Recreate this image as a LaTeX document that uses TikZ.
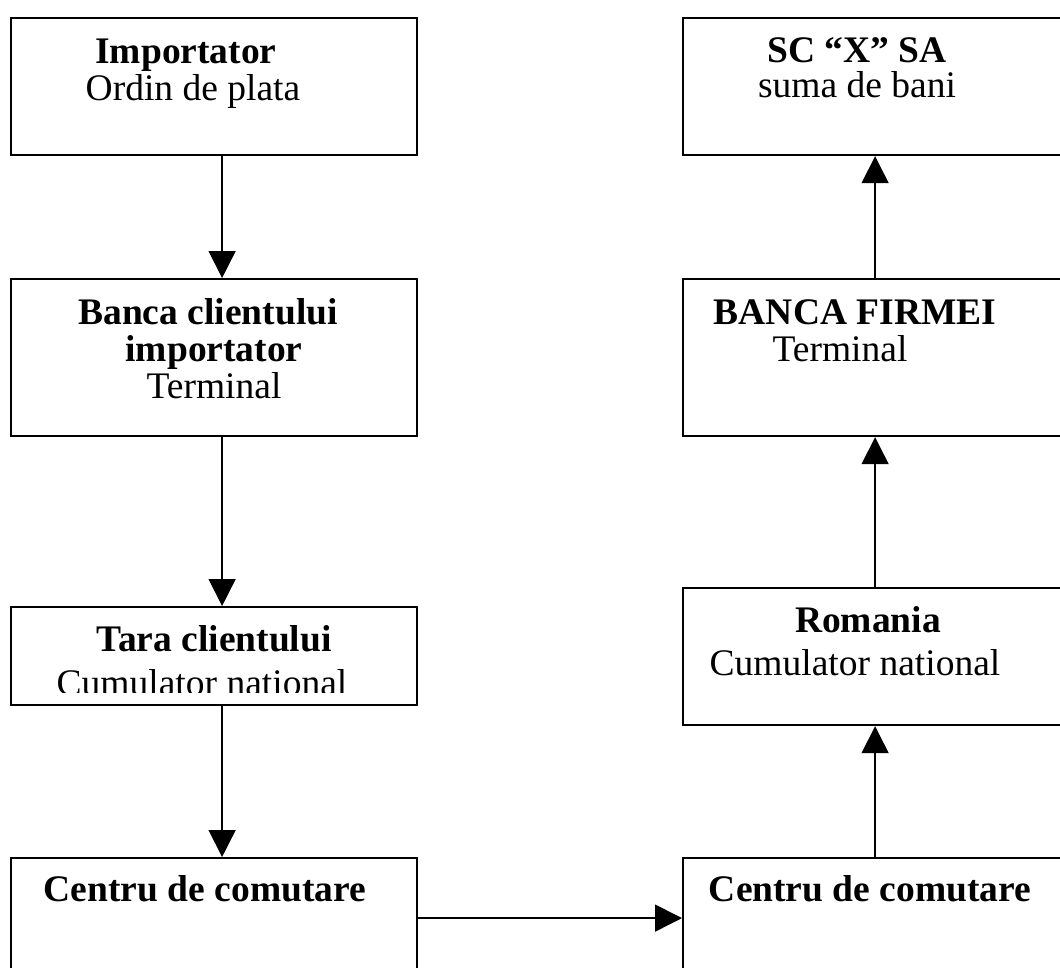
\documentclass[tikz,border=0pt]{standalone}
\usepackage{fontspec}
\setmainfont{Liberation Serif}
\usetikzlibrary{arrows.meta}
\tikzset{
  box/.style={draw=black,line width=2.2pt,inner sep=0pt,anchor=north west},
  arr/.style={draw=black,line width=1.5pt,-{Triangle[width=27pt,length=27pt]}},
  lbl/.style={anchor=base,inner sep=0pt,font=\fontsize{37.5}{44}\selectfont},
  hd/.style={lbl,font=\fontsize{37.5}{44}\selectfont\bfseries},
}
\begin{document}
\begin{tikzpicture}[x=1pt,y=-1pt]
\fill[white] (0.000000,0.000000) rectangle (1060.000000,967.000000);
\useasboundingbox (0.000000,0.000000) rectangle (1060.000000,967.000000);
\clip (0.000000,0.000000) rectangle (1060.000000,967.000000);
% Drawing boxes
% Left column: importer side
\node[box,minimum width=406pt,minimum height=137pt] (imp) at (10.000000,17.000000) {};
\node[box,minimum width=406pt,minimum height=157pt] (bcl) at (10.000000,278.000000) {};
\node[box,minimum width=406pt,minimum height=98pt] (tara) at (10.000000,606.000000) {};
\node[box,minimum width=406pt,minimum height=140pt] (cc1) at (10.000000,857.000000) {};
% Right column: firm side
\node[box,minimum width=420pt,minimum height=137pt] (scx) at (682.000000,17.000000) {};
\node[box,minimum width=420pt,minimum height=157pt] (bfi) at (682.000000,278.000000) {};
\node[box,minimum width=420pt,minimum height=137pt] (rom) at (682.000000,587.000000) {};
\node[box,minimum width=420pt,minimum height=140pt] (cc2) at (682.000000,857.000000) {};
% Done with boxes; drawing texts
\node[hd] (impa) at (186.000000,63.000000) {Importator};
\node[lbl] (impb) at (193.000000,100.000000) {Ordin de plata};
\node[hd] (bcla) at (208.000000,324.000000) {Banca clientului};
\node[hd] (bclb) at (214.000000,361.000000) {importator};
\node[lbl] (bclc) at (214.000000,398.000000) {Terminal};
\node[hd] (taraa) at (214.000000,651.000000) {Tara clientului};
\begin{scope}
\clip (10.000000,606.000000) rectangle (416.000000,692.000000);
\node[lbl] (tarab) at (202.000000,695.000000) {Cumulator national};
\end{scope}
\node[hd] (cc1a) at (205.000000,901.000000) {Centru de comutare};
\node[hd] (scxa) at (857.000000,62.000000) {SC “X” SA};
\node[lbl] (scxb) at (857.000000,97.000000) {suma de bani};
\node[hd] (bfia) at (855.000000,324.000000) {BANCA FIRMEI};
\node[lbl] (bfib) at (840.000000,361.000000) {Terminal};
\node[hd] (roma) at (868.000000,632.000000) {Romania};
\node[lbl] (romb) at (855.000000,675.000000) {Cumulator national};
\node[hd] (cc2a) at (870.000000,901.000000) {Centru de comutare};
% Done with texts; drawing arrows
\draw[arr] ([xshift=8pt]imp.south) -- ([xshift=8pt]bcl.north);
\draw[arr] ([xshift=8pt]bcl.south) -- ([xshift=8pt]tara.north);
\draw[arr] ([xshift=8pt]tara.south) -- ([xshift=8pt]cc1.north);
\draw[arr] ([yshift=10pt]cc1.east) -- ([yshift=10pt]cc2.west);
\draw[arr] ([xshift=-18pt]cc2.north) -- ([xshift=-18pt]rom.south);
\draw[arr] ([xshift=-18pt]rom.north) -- ([xshift=-18pt]bfi.south);
\draw[arr] ([xshift=-18pt]bfi.north) -- ([xshift=-18pt]scx.south);
% Done with arrows
\end{tikzpicture}
\end{document}
